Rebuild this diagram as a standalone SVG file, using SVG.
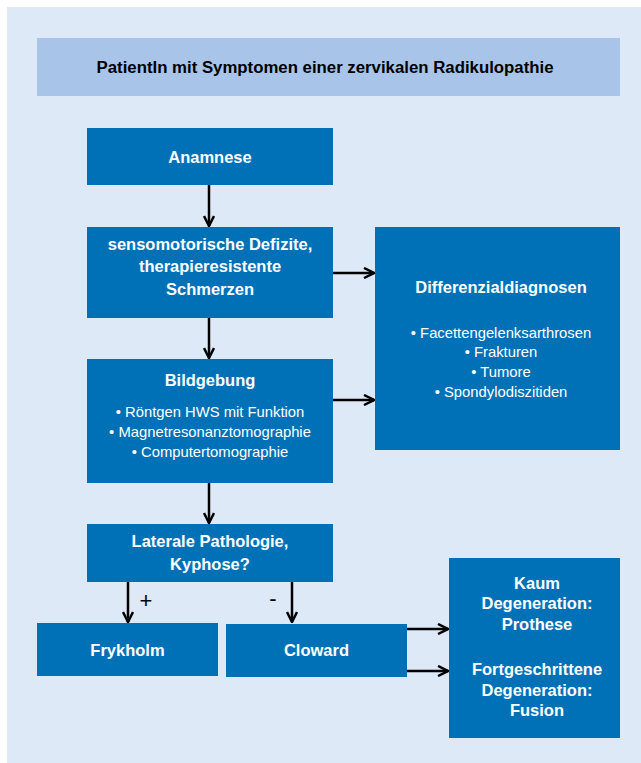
<svg xmlns="http://www.w3.org/2000/svg" width="641" height="763" viewBox="0 0 641 763">
<style>
.bg{fill:#dde9f7}
.hdr{fill:#a9c4e9}
.box{fill:#0071b7}
.t{font-family:"Liberation Sans",Arial,sans-serif;font-weight:bold;font-size:16.5px;fill:#ffffff;text-anchor:middle}
.th{font-family:"Liberation Sans",Arial,sans-serif;font-weight:bold;font-size:16.8px;fill:#000000;text-anchor:middle}
.b{font-family:"Liberation Sans",Arial,sans-serif;font-size:14.8px;fill:#ffffff;text-anchor:middle}
.lbl{font-family:"Liberation Sans",Arial,sans-serif;font-size:22px;fill:#000000;text-anchor:middle}
.c{stroke:#000000;stroke-width:2.5;fill:none;marker-end:url(#ah)}
</style>
<defs>
<marker id="ah" viewBox="0 0 10 10" refX="9" refY="5" markerWidth="5" markerHeight="5" orient="auto" markerUnits="strokeWidth">
<path d="M1,1 L9,5 L1,9" fill="none" stroke="#000000" stroke-width="2"/>
</marker>
</defs>
<rect class="bg" x="7" y="7" width="634" height="756"/>
<g id="header">
<rect class="hdr" x="37" y="38" width="583" height="58"/>
<text class="th" x="325" y="73">PatientIn mit Symptomen einer zervikalen Radikulopathie</text>
</g>
<g id="anamnese">
<rect class="box" x="87" y="128" width="246" height="57"/>
<text class="t" x="210" y="163">Anamnese</text>
</g>
<g id="defizite">
<rect class="box" x="87" y="227" width="246" height="91"/>
<text class="t" x="210" y="250">sensomotorische Defizite,</text>
<text class="t" x="210" y="272">therapieresistente</text>
<text class="t" x="210" y="295">Schmerzen</text>
</g>
<g id="differenzial">
<rect class="box" x="375" y="227" width="245" height="223"/>
<text class="t" x="501" y="293">Differenzialdiagnosen</text>
<text class="b" x="501" y="338">• Facettengelenksarthrosen</text>
<text class="b" x="501" y="357">• Frakturen</text>
<text class="b" x="501" y="377">• Tumore</text>
<text class="b" x="501" y="397">• Spondylodiszitiden</text>
</g>
<g id="bildgebung">
<rect class="box" x="87" y="359" width="246" height="124"/>
<text class="t" x="210" y="386">Bildgebung</text>
<text class="b" x="210" y="417">• Röntgen HWS mit Funktion</text>
<text class="b" x="210" y="437">• Magnetresonanztomographie</text>
<text class="b" x="210" y="457">• Computertomographie</text>
</g>
<g id="laterale">
<rect class="box" x="87" y="524" width="246" height="58"/>
<text class="t" x="210" y="547">Laterale Pathologie,</text>
<text class="t" x="210" y="570">Kyphose?</text>
</g>
<g id="frykholm">
<rect class="box" x="37" y="623" width="181" height="53"/>
<text class="t" x="127.5" y="656">Frykholm</text>
</g>
<g id="cloward">
<rect class="box" x="226" y="624" width="181" height="53"/>
<text class="t" x="316.5" y="656">Cloward</text>
</g>
<g id="ergebnis">
<rect class="box" x="449" y="558" width="171" height="180"/>
<text class="t" x="537" y="589">Kaum</text>
<text class="t" x="537" y="609">Degeneration:</text>
<text class="t" x="537" y="630">Prothese</text>
<text class="t" x="537" y="675">Fortgeschrittene</text>
<text class="t" x="537" y="696">Degeneration:</text>
<text class="t" x="537" y="716">Fusion</text>
</g>
<g id="connectors">
<line class="c" x1="209" y1="185" x2="209" y2="226"/>
<line class="c" x1="209" y1="318" x2="209" y2="358"/>
<line class="c" x1="209" y1="483" x2="209" y2="523"/>
<line class="c" x1="333" y1="273" x2="374" y2="273"/>
<line class="c" x1="333" y1="400" x2="374" y2="400"/>
<line class="c" x1="128" y1="582" x2="128" y2="622"/>
<line class="c" x1="292" y1="582" x2="292" y2="622"/>
<line class="c" x1="407" y1="629" x2="448" y2="629"/>
<line class="c" x1="407" y1="671" x2="448" y2="671"/>
<text class="lbl" x="146" y="608">+</text>
<text class="lbl" x="273" y="606">-</text>
</g>
</svg>
